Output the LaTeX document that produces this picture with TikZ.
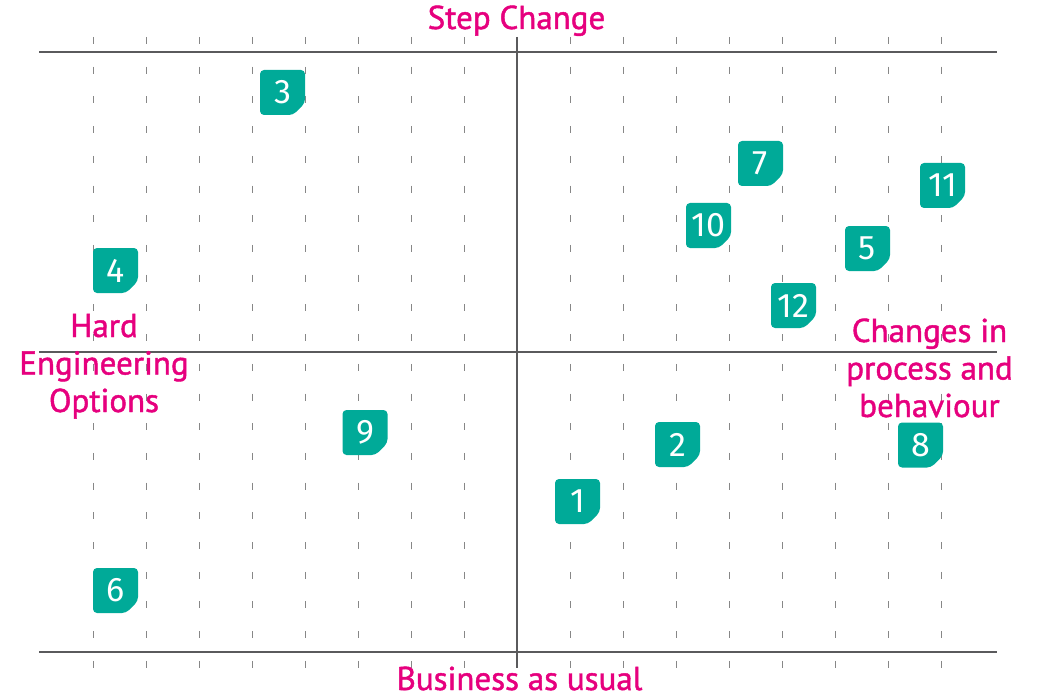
\documentclass[tikz,border=0pt]{standalone}
\usepackage{fontspec}
\setmainfont{PT Sans}
\newfontfamily\labelfont[FakeBold=1.3]{PT Sans}
\newfontfamily\numfont{Fira Sans}
\definecolor{axisgray}{RGB}{90,90,92}
\definecolor{tickgray}{RGB}{135,135,135}
\definecolor{labelpink}{RGB}{230,0,126}
\definecolor{badgeteal}{RGB}{0,170,152}
\tikzset{
  axisline/.style={draw=axisgray, line width=2.6pt},
  gridline/.style={draw=tickgray, line width=1.3pt, dash pattern=on 7pt off 22.71pt},
  quadlabel/.style={text=labelpink, align=center, inner sep=0pt,
    font=\labelfont\fontsize{33}{37.5}\selectfont},
  badge/.style={minimum width=45pt, minimum height=45pt, inner sep=0pt,
    text=white, font=\numfont\fontsize{34}{34}\selectfont,
    path picture={\fill[badgeteal, rounded corners=4pt]
      (path picture bounding box.north west) --
      (path picture bounding box.north east) --
      ([yshift=12pt]path picture bounding box.south east) --
      ([xshift=-12pt]path picture bounding box.south east) --
      (path picture bounding box.south west) -- cycle;}},
}
\begin{document}
\begin{tikzpicture}[x=1pt, y=-1pt]
\useasboundingbox (0,0) rectangle (1041,695);

% dashed vertical grid
\foreach \k in {0,...,7,9,10,...,16}
  \draw[gridline] ({93.3+53.03*\k},37) -- ({93.3+53.03*\k},668);

% axes
\coordinate (tl) at (39,52);   \coordinate (tr) at (997,52);
\coordinate (ml) at (39,352);  \coordinate (mr) at (997,352);
\coordinate (bl) at (39,652);  \coordinate (br) at (997,652);
\coordinate (vt) at (517,37);  \coordinate (vb) at (517,668);
\draw[axisline] (tl) -- (tr);
\draw[axisline] (ml) -- (mr);
\draw[axisline] (bl) -- (br);
\draw[axisline] (vt) -- (vb);

% quadrant labels (multi-line nodes are anchored at their last baseline)
\node[quadlabel, anchor=base] (top) at (516.5,29) {Step Change};
\node[quadlabel, anchor=base, text depth=0pt] (bottom) at (519.5,690) {Business as usual};
\node[quadlabel, anchor=base] (left) at (104,412) {Hard\\Engineering\\Options};
\node[quadlabel, anchor=base] (right) at (929.5,417) {Changes in\\process and\\behaviour};

% numbered markers
\node[badge] (m1)  at (577.5,501.5) {1};
\node[badge] (m2)  at (677.5,444.5) {2};
\node[badge] (m3)  at (282.5,92.5)  {3};
\node[badge] (m4)  at (115.5,270.5) {4};
\node[badge] (m5)  at (867.5,248.5) {5};
\node[badge] (m6)  at (115.5,590.5) {6};
\node[badge] (m7)  at (760.5,163.5) {7};
\node[badge] (m8)  at (920.5,445)   {8};
\node[badge] (m9)  at (365,432.5)   {9};
\node[badge] (m10) at (708.5,225.5) {10};
\node[badge] (m11) at (942.5,185.5) {11};
\node[badge] (m12) at (793.5,305.5) {12};
\end{tikzpicture}
\end{document}
